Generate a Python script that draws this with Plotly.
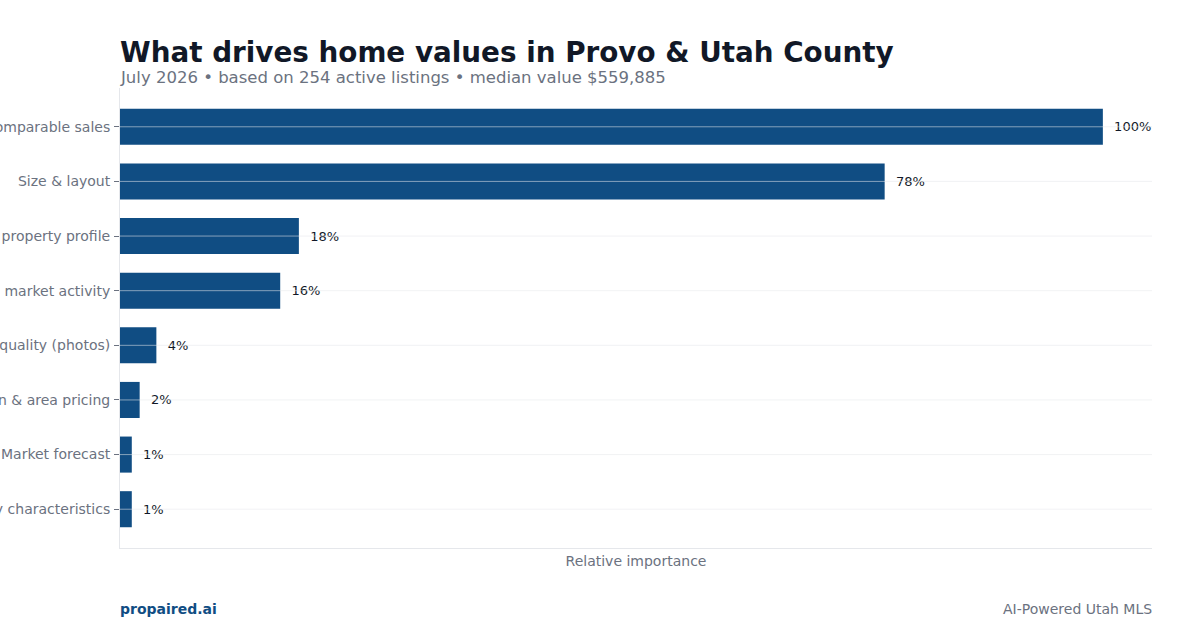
import plotly.graph_objects as go

categories = [
    "Comparable sales",
    "Size & layout",
    "Overall property profile",
    "Local market activity",
    "Listing quality (photos)",
    "Location & area pricing",
    "Market forecast",
    "Property characteristics",
]
importance = [100, 77.8, 18.2, 16.3, 3.7, 2.0, 1.2, 1.2]
labels = [f"{round(v)}%" for v in importance]

title_text = "What drives home values in Provo & Utah County"
subtitle_text = "July 2026 • based on 254 active listings • median value $559,885"
x_title = "Relative importance"
footer_left = "propaired.ai"
footer_right = "AI-Powered Utah MLS"

FONT = "DejaVu Sans"
BAR = "#104d83"
PLOT_H = 630 - 88 - 82
PLOT_W = 1200 - 120 - 48
GRID = "rgba(229,231,235,0.55)"

fig = go.Figure(
    go.Bar(
        x=importance,
        y=categories,
        orientation="h",
        marker=dict(color=BAR, line=dict(width=0)),
        text=["  " + t for t in labels],
        textposition="outside",
        textfont=dict(family=FONT, size=13, color="#111827"),
        cliponaxis=False,
        width=0.66,
        hoverinfo="skip",
    )
)

# gridlines drawn above the bars, as in the reference
for c in categories:
    fig.add_shape(
        type="line", xref="paper", yref="y", x0=0, x1=1, y0=c, y1=c,
        line=dict(color=GRID, width=1), layer="above",
    )

n = len(categories)
fig.update_layout(
    width=1200,
    height=630,
    margin=dict(l=120, r=48, t=88, b=82),
    paper_bgcolor="white",
    plot_bgcolor="white",
    font=dict(family=FONT, size=14, color="#6b7280"),
    showlegend=False,
    xaxis=dict(
        range=[0, 105],
        showgrid=False,
        zeroline=False,
        showticklabels=False,
        showline=True,
        linecolor="#e5e7eb",
        linewidth=1,
        ticks="",
        title=dict(text=x_title, font=dict(family=FONT, size=14, color="#6b7280"), standoff=8),
    ),
    yaxis=dict(
        type="category",
        range=[n - 1 + 0.71, -0.71],
        showgrid=False,
        zeroline=False,
        showline=True,
        linecolor="#e5e7eb",
        linewidth=1,
        layer="above traces",
        ticks="outside",
        ticklen=5,
        tickcolor="#6b7280",
        ticklabelstandoff=1,
        tickfont=dict(family=FONT, size=14, color="#6b7280"),
        automargin=False,
    ),
    annotations=[
        dict(
            text=f"<b>{title_text}</b>",
            xref="paper", yref="paper", x=-2 / PLOT_W, y=1 + 36 / PLOT_H,
            xanchor="left", yanchor="middle", showarrow=False,
            font=dict(family=FONT, size=27.8, color="#111827"),
        ),
        dict(
            text=subtitle_text,
            xref="paper", yref="paper", x=-2 / PLOT_W, y=1 + 11 / PLOT_H,
            xanchor="left", yanchor="middle", showarrow=False,
            font=dict(family=FONT, size=16.5, color="#6b7280"),
        ),
        dict(
            text=f"<b>{footer_left}</b>",
            xref="paper", yref="paper", x=-2 / PLOT_W, y=-61 / PLOT_H,
            xanchor="left", yanchor="middle", showarrow=False,
            font=dict(family=FONT, size=14, color="#104d83"),
        ),
        dict(
            text=footer_right,
            xref="paper", yref="paper", x=1 + 2 / PLOT_W, y=-61 / PLOT_H,
            xanchor="right", yanchor="middle", showarrow=False,
            font=dict(family=FONT, size=14, color="#6b7280"),
        ),
    ],
)

fig.write_html("out.html")
